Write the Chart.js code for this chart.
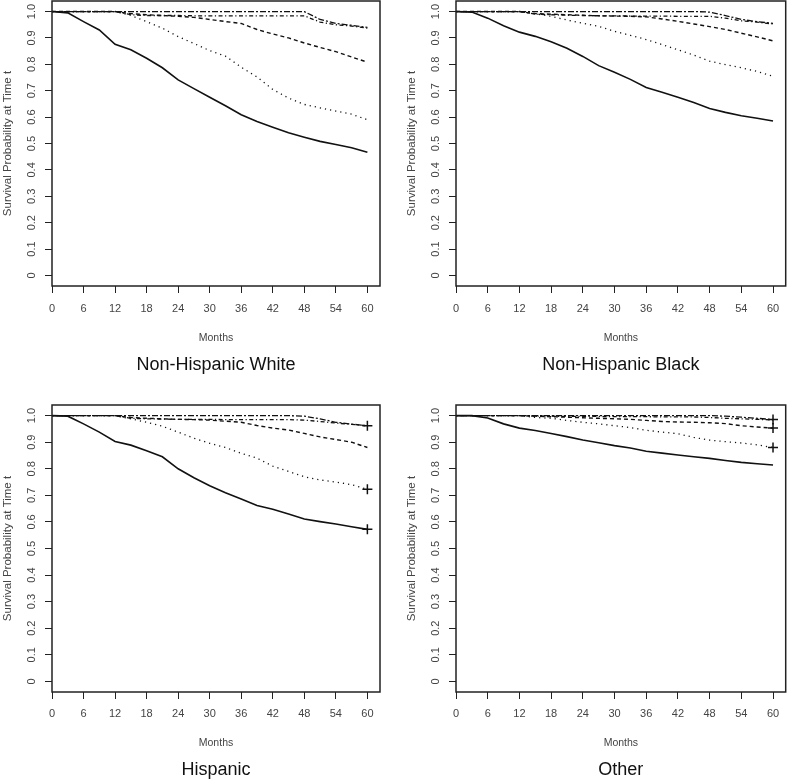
<!DOCTYPE html>
<html>
<head>
<meta charset="utf-8">
<script src="https://cdn.jsdelivr.net/npm/chart.js@4/dist/chart.umd.min.js"></script>
<style>
  html, body { margin: 0; padding: 0; background: #ffffff; }
  body { width: 787px; height: 781px; position: relative; overflow: hidden; }
  .panel { position: absolute; }
  canvas { display: block; }
</style>
</head>
<body>
<div class="panel" style="left:0px;top:0px;"><canvas id="c1" width="390" height="390"></canvas></div>
<div class="panel" style="left:404px;top:0px;"><canvas id="c2" width="383" height="390"></canvas></div>
<div class="panel" style="left:0px;top:404px;"><canvas id="c3" width="390" height="377"></canvas></div>
<div class="panel" style="left:404px;top:404px;"><canvas id="c4" width="383" height="377"></canvas></div>
<script>
// ---------- data ----------
const months = [0, 3, 6, 9, 12, 15, 18, 21, 24, 27, 30, 33, 36, 39, 42, 45, 48, 51, 54, 57, 60];
const xTickValues = [0, 6, 12, 18, 24, 30, 36, 42, 48, 54, 60];
const xTickLabels = ['0', '6', '12', '18', '24', '30', '36', '42', '48', '54', '60'];
const yTickValues = [0, 0.1, 0.2, 0.3, 0.4, 0.5, 0.6, 0.7, 0.8, 0.9, 1.0];
const yTickLabels = ['0', '0.1', '0.2', '0.3', '0.4', '0.5', '0.6', '0.7', '0.8', '0.9', '1.0'];
const panelTitles = ['Non-Hispanic White', 'Non-Hispanic Black', 'Hispanic', 'Other'];
const xAxisTitle = 'Months';
const yAxisTitle = 'Survival Probability at Time t';

// Non-Hispanic White
const nhwSolid   = [1, 0.995, 0.962, 0.930, 0.876, 0.855, 0.823, 0.787, 0.741, 0.708, 0.675, 0.643, 0.609, 0.583, 0.562, 0.541, 0.524, 0.508, 0.496, 0.484, 0.467];
const nhwDotted  = [1, 1, 1, 1, 1, 0.985, 0.962, 0.937, 0.905, 0.879, 0.852, 0.831, 0.789, 0.752, 0.705, 0.672, 0.648, 0.635, 0.623, 0.611, 0.590];
const nhwDashed  = [1, 1, 1, 1, 1, 0.992, 0.988, 0.985, 0.982, 0.978, 0.970, 0.962, 0.955, 0.932, 0.915, 0.900, 0.881, 0.864, 0.848, 0.828, 0.808];
const nhwDashDot = [1, 1, 1, 1, 1, 0.988, 0.985, 0.985, 0.985, 0.984, 0.984, 0.984, 0.984, 0.984, 0.984, 0.984, 0.984, 0.960, 0.950, 0.945, 0.937];
const nhwTwoDash = [1, 1, 1, 1, 1, 1, 1, 1, 1, 1, 1, 1, 1, 1, 1, 1, 1, 0.970, 0.955, 0.948, 0.940];

// Non-Hispanic Black
const nhbSolid   = [1, 0.998, 0.975, 0.946, 0.922, 0.906, 0.886, 0.861, 0.830, 0.795, 0.770, 0.743, 0.712, 0.694, 0.675, 0.655, 0.633, 0.618, 0.605, 0.596, 0.585];
const nhbDotted  = [1, 1, 1, 1, 1, 0.992, 0.982, 0.968, 0.956, 0.944, 0.925, 0.910, 0.894, 0.875, 0.855, 0.835, 0.812, 0.799, 0.787, 0.773, 0.755];
const nhbDashed  = [1, 1, 1, 1, 1, 0.992, 0.990, 0.988, 0.986, 0.984, 0.983, 0.982, 0.980, 0.972, 0.963, 0.953, 0.943, 0.932, 0.918, 0.904, 0.889];
const nhbDashDot = [1, 1, 1, 1, 1, 0.990, 0.988, 0.986, 0.985, 0.984, 0.984, 0.983, 0.983, 0.983, 0.982, 0.982, 0.982, 0.975, 0.965, 0.960, 0.953];
const nhbTwoDash = [1, 1, 1, 1, 1, 1, 1, 1, 1, 1, 1, 1, 1, 1, 1, 1, 0.998, 0.985, 0.970, 0.962, 0.955];

// Hispanic
const hisSolid   = [1, 0.998, 0.969, 0.938, 0.903, 0.889, 0.868, 0.845, 0.800, 0.766, 0.736, 0.710, 0.686, 0.662, 0.648, 0.630, 0.611, 0.601, 0.592, 0.582, 0.572];
const hisDotted  = [1, 1, 1, 1, 1, 0.988, 0.975, 0.960, 0.938, 0.915, 0.896, 0.880, 0.858, 0.840, 0.810, 0.790, 0.770, 0.758, 0.750, 0.740, 0.723];
const hisDashed  = [1, 1, 1, 1, 1, 0.993, 0.990, 0.988, 0.986, 0.985, 0.983, 0.979, 0.975, 0.963, 0.953, 0.946, 0.933, 0.920, 0.910, 0.900, 0.880];
const hisDashDot = [1, 1, 1, 1, 1, 0.990, 0.988, 0.987, 0.986, 0.986, 0.986, 0.985, 0.985, 0.985, 0.985, 0.985, 0.983, 0.978, 0.972, 0.967, 0.962];
const hisTwoDash = [1, 1, 1, 1, 1, 1, 1, 1, 1, 1, 1, 1, 1, 1, 1, 1, 0.998, 0.988, 0.975, 0.968, 0.962];

// Other
const othSolid   = [1, 1, 0.991, 0.969, 0.953, 0.944, 0.933, 0.921, 0.908, 0.898, 0.887, 0.878, 0.866, 0.859, 0.852, 0.845, 0.839, 0.831, 0.824, 0.819, 0.814];
const othDotted  = [1, 1, 1, 1, 1, 0.993, 0.990, 0.982, 0.975, 0.969, 0.962, 0.955, 0.945, 0.938, 0.932, 0.918, 0.908, 0.902, 0.897, 0.890, 0.880];
const othDashed  = [1, 1, 1, 1, 1, 0.998, 0.996, 0.994, 0.992, 0.990, 0.988, 0.986, 0.982, 0.978, 0.976, 0.975, 0.973, 0.970, 0.962, 0.957, 0.953];
const othDashDot = [1, 1, 1, 1, 1, 0.998, 0.998, 0.997, 0.997, 0.997, 0.996, 0.996, 0.996, 0.995, 0.995, 0.995, 0.993, 0.990, 0.988, 0.986, 0.984];
const othTwoDash = [1, 1, 1, 1, 1, 1, 1, 1, 1, 1, 1, 1, 1, 1, 1, 1, 1, 0.998, 0.994, 0.990, 0.985];

// which curves carry a censoring "+" at the last time point (solid, dotted, dashed, dashdot, twodash)
const nhwMarks = [false, false, false, false, false];
const nhbMarks = [false, false, false, false, false];
const hisMarks = [true, true, false, false, true];
const othMarks = [false, true, true, false, true];

// ---------- styling ----------
const FONT = '"Liberation Sans", Arial, Helvetica, sans-serif';
const lineStyles = [
  { dash: [], width: 1.6 },            // solid
  { dash: [1.2, 4], width: 1.3 },      // dotted
  { dash: [4, 3], width: 1.4 },        // dashed
  { dash: [1.2, 2.5, 4, 2.5], width: 1.3 }, // dot-dash
  { dash: [2, 2, 6, 2], width: 1.3 }   // two-dash
];

const boxPlugin = {
  id: 'frameBox',
  afterDatasetsDraw(chart) {
    const a = chart.chartArea;
    const ctx = chart.ctx;
    ctx.save();
    ctx.strokeStyle = '#222';
    ctx.lineWidth = 1.5;
    ctx.strokeRect(a.left, a.top, a.right - a.left, a.bottom - a.top);
    ctx.restore();
  }
};

function makeDatasets(seriesList, marks) {
  return seriesList.map((vals, k) => {
    const pts = months.map((m, i) => ({ x: m, y: vals[i] }));
    return {
      data: pts,
      borderColor: '#111',
      backgroundColor: '#111',
      borderWidth: lineStyles[k].width,
      borderDash: lineStyles[k].dash,
      fill: false,
      tension: 0,
      pointStyle: 'cross',
      pointRadius: (ctx) => (marks[k] && ctx.dataIndex === months.length - 1 ? 5 : 0),
      pointBorderWidth: 1.5,
      pointBorderColor: '#111',
      pointHoverRadius: 0
    };
  });
}

function makeChart(id, title, seriesList, marks, geom) {
  const ctx = document.getElementById(id);
  return new Chart(ctx, {
    type: 'line',
    data: { datasets: makeDatasets(seriesList, marks) },
    options: {
      responsive: false,
      animation: false,
      devicePixelRatio: 1,
      layout: { autoPadding: false, padding: { left: 0, top: 1, right: geom.padRight, bottom: 0 } },
      plugins: {
        legend: { display: false },
        tooltip: { enabled: false },
        title: {
          display: true,
          text: title,
          position: 'bottom',
          fullSize: false,
          color: '#111',
          font: { family: FONT, size: 18, weight: 'normal' },
          padding: { top: 0, bottom: geom.titlePadBottom }
        }
      },
      scales: {
        x: {
          type: 'linear',
          min: 0,
          max: 62.4,
          afterBuildTicks: (s) => { s.ticks = xTickValues.map(v => ({ value: v })); },
          afterFit: (s) => { s.height = geom.xHeight; s.paddingLeft = 0; s.paddingRight = 0; },
          border: { display: false },
          grid: { drawOnChartArea: false, drawTicks: true, tickLength: 7, color: '#222', lineWidth: 1 },
          ticks: {
            autoSkip: false, maxRotation: 0, minRotation: 0, padding: geom.xTickPad,
            color: '#444', font: { family: FONT, size: 11 },
            callback: (v, i) => xTickLabels[i]
          },
          title: {
            display: true, text: xAxisTitle, color: '#444',
            font: { family: FONT, size: 10.5 },
            padding: { top: 0, bottom: 9.9 }
          }
        },
        y: {
          type: 'linear',
          min: -0.04,
          max: 1.04,
          afterBuildTicks: (s) => { s.ticks = yTickValues.map(v => ({ value: v })); },
          afterFit: (s) => { s.width = 52; s.paddingTop = 0; s.paddingBottom = 0; },
          border: { display: false },
          grid: { drawOnChartArea: false, drawTicks: true, tickLength: 7, color: '#222', lineWidth: 1 },
          ticks: {
            autoSkip: false, minRotation: 90, maxRotation: 90, crossAlign: 'center', padding: 5,
            color: '#444', font: { family: FONT, size: 11 },
            callback: (v, i) => yTickLabels[i]
          },
          title: {
            display: true, text: yAxisTitle, color: '#444',
            font: { family: FONT, size: 11.5 },
            padding: { top: 1, bottom: 0 }
          }
        }
      }
    },
    plugins: [boxPlugin]
  });
}

const topGeom = { padRight: 10, titlePadBottom: 14.2, xHeight: 68.2, xTickPad: 9.4 };
const topGeomR = { padRight: 1.3, titlePadBottom: 14.2, xHeight: 68.2, xTickPad: 9.4 };
const botGeom = { padRight: 10, titlePadBottom: 0.2, xHeight: 67.2, xTickPad: 8.4 };
const botGeomR = { padRight: 1.3, titlePadBottom: 0.2, xHeight: 67.2, xTickPad: 8.4 };

makeChart('c1', panelTitles[0], [nhwSolid, nhwDotted, nhwDashed, nhwDashDot, nhwTwoDash], nhwMarks, topGeom);
makeChart('c2', panelTitles[1], [nhbSolid, nhbDotted, nhbDashed, nhbDashDot, nhbTwoDash], nhbMarks, topGeomR);
makeChart('c3', panelTitles[2], [hisSolid, hisDotted, hisDashed, hisDashDot, hisTwoDash], hisMarks, botGeom);
makeChart('c4', panelTitles[3], [othSolid, othDotted, othDashed, othDashDot, othTwoDash], othMarks, botGeomR);
</script>
</body>
</html>
